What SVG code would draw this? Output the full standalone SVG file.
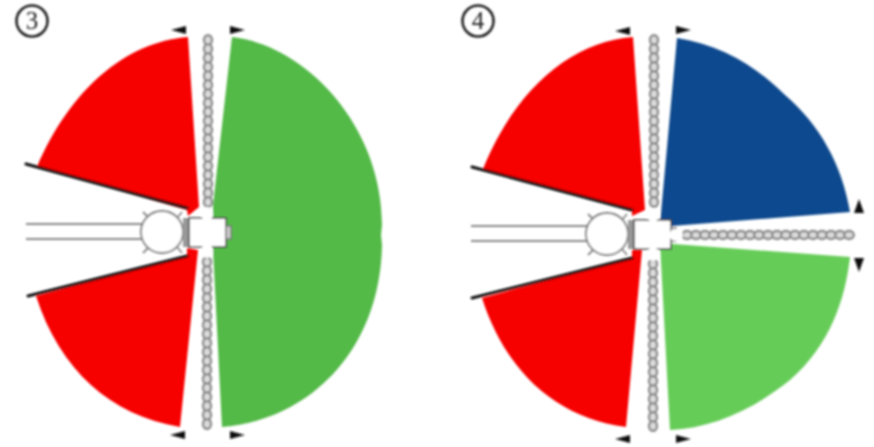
<svg xmlns="http://www.w3.org/2000/svg" xmlns:xlink="http://www.w3.org/1999/xlink" width="874" height="447" viewBox="0 0 874 447">
<defs>
<style>
.red{fill:#f60000}.green{fill:#52b947}.lgreen{fill:#66cc58}.blue{fill:#0d4a8e}
.wall{stroke:#111;stroke-width:3;fill:none;stroke-linecap:round}
.rail{stroke:#888;stroke-width:1.8;fill:none}
.st{fill:#fff;stroke:#777;stroke-width:1.8}
.box{fill:#fff;stroke:#444;stroke-width:1.6}
.blob{fill:#fff;stroke:none}
.arr{fill:#111}
.lab{font-family:"Liberation Serif",serif;font-size:25px;fill:#222;text-anchor:middle}
.ring{fill:none;stroke:#222;stroke-width:2.6}
</style>
<filter id="soft" x="-5%" y="-5%" width="110%" height="110%"><feGaussianBlur stdDeviation="0.9"/></filter>
<ellipse id="l" cx="0" cy="0" rx="4" ry="4.8" fill="#ddd" stroke="#8c8c8c" stroke-width="2.4"/>
<ellipse id="h" cx="0" cy="0" rx="4.8" ry="4" fill="#ddd" stroke="#8c8c8c" stroke-width="2.4"/>
<g id="vchain">
<use xlink:href="#l" y="0"/><use xlink:href="#l" y="9"/><use xlink:href="#l" y="18"/><use xlink:href="#l" y="27"/><use xlink:href="#l" y="36"/><use xlink:href="#l" y="45"/><use xlink:href="#l" y="54"/><use xlink:href="#l" y="63"/><use xlink:href="#l" y="72"/><use xlink:href="#l" y="81"/><use xlink:href="#l" y="90"/><use xlink:href="#l" y="99"/><use xlink:href="#l" y="108"/><use xlink:href="#l" y="117"/><use xlink:href="#l" y="126"/><use xlink:href="#l" y="135"/><use xlink:href="#l" y="144"/><use xlink:href="#l" y="153"/><use xlink:href="#l" y="162"/>
</g>
<g id="plant">
<path class="rail" d="M26,224H142M26,239H142"/>
<path class="rail" d="M143,212l6,6M143,253l6,-6M182,212l-5,6M182,253l-5,-6"/>
<circle class="st" cx="162" cy="232" r="21"/>
<rect x="183" y="218" width="6" height="29" fill="#999"/>
<rect class="box" x="189" y="218" width="37" height="29"/>
<path d="M226,226h5v13h-5z" fill="#ccc" stroke="#777" stroke-width="1.4"/>
</g>
</defs>
<rect width="874" height="447" fill="#fff"/>
<g filter="url(#soft)">
<g id="diagram-3">
<g id="label-3"><circle class="ring" cx="32" cy="21" r="15.5"/><text class="lab" x="32" y="29">3</text></g>
<path id="red-top-3" class="red" d="M188,37C125,42 70,90 37,167L187,210L188,216L199,207Z"/>
<path id="red-bottom-3" class="red" d="M36,296C60,370 110,415 180,427L198,250L187,248L187,256Z"/>
<path id="green-3" class="green" d="M232,37C305,45 382,125 382,225L381,235L382,245C380,350 310,420 222,427L213,250L213,205Z"/>
<g id="chain-3-top"><use xlink:href="#vchain" x="208" y="40"/></g>
<g id="chain-3-bottom"><use xlink:href="#vchain" x="207" y="262"/></g>
<g id="walls-3"><path class="wall" d="M26,164L187,208M28,296L187,256"/></g>
<g id="structure-3"><use xlink:href="#plant"/>
<ellipse class="blob" cx="207" cy="214" rx="6" ry="7"/><ellipse class="blob" cx="207" cy="251" rx="6" ry="7"/></g>
<g id="arrows-3" class="arr">
<path d="M171,30L186,26V34Z"/><path d="M245,30L230,26V34Z"/>
<path d="M170,435L185,431V439Z"/><path d="M245,435L230,431V439Z"/>
</g>
</g>
<g id="diagram-4">
<g id="label-4"><circle class="ring" cx="478" cy="21" r="15.5"/><text class="lab" x="478" y="29">4</text></g>
<path id="red-top-4" class="red" d="M633,37C570,42 515,90 483,169L632,210L632,216L645,210Z"/>
<path id="red-bottom-4" class="red" d="M482,298C505,370 555,418 626,427L642,250L632,250L632,258Z"/>
<path id="blue-4" class="blue" d="M677,38C720,45 755,65 785,95C820,125 842,165 850,212L672,226L660,224Z"/>
<path id="green-4" class="lgreen" d="M660,243L850,257C845,300 830,345 790,380C750,412 710,428 670,430Z"/>
<g id="chain-4-top"><use xlink:href="#vchain" x="654" y="40"/></g>
<g id="chain-4-bottom"><use xlink:href="#vchain" x="653" y="264"/></g>
<g id="chain-4-side">
<use xlink:href="#h" x="687" y="235"/><use xlink:href="#h" x="696" y="235"/><use xlink:href="#h" x="705" y="235"/><use xlink:href="#h" x="714" y="235"/><use xlink:href="#h" x="723" y="235"/><use xlink:href="#h" x="732" y="235"/><use xlink:href="#h" x="741" y="235"/><use xlink:href="#h" x="750" y="235"/><use xlink:href="#h" x="759" y="235"/><use xlink:href="#h" x="768" y="235"/><use xlink:href="#h" x="777" y="235"/><use xlink:href="#h" x="786" y="235"/><use xlink:href="#h" x="795" y="235"/><use xlink:href="#h" x="804" y="235"/><use xlink:href="#h" x="813" y="235"/><use xlink:href="#h" x="822" y="235"/><use xlink:href="#h" x="831" y="235"/><use xlink:href="#h" x="840" y="235"/><use xlink:href="#h" x="849" y="235"/>
</g>
<g id="walls-4"><path class="wall" d="M472,167L632,210M472,298L632,258"/></g>
<g id="structure-4"><use xlink:href="#plant" x="445" y="2"/>
<ellipse class="blob" cx="653" cy="215" rx="6" ry="7"/><ellipse class="blob" cx="653" cy="254" rx="6" ry="7"/><ellipse class="blob" cx="676" cy="235" rx="7" ry="6"/></g>
<g id="arrows-4" class="arr">
<path d="M615,31L630,27V35Z"/><path d="M691,30L676,26V34Z"/>
<path d="M615,439L630,435V443Z"/><path d="M691,439L676,435V443Z"/>
<path d="M859,199L854,213H864Z"/><path d="M859,272L854,258H864Z"/>
</g>
</g>
</g>
</svg>
